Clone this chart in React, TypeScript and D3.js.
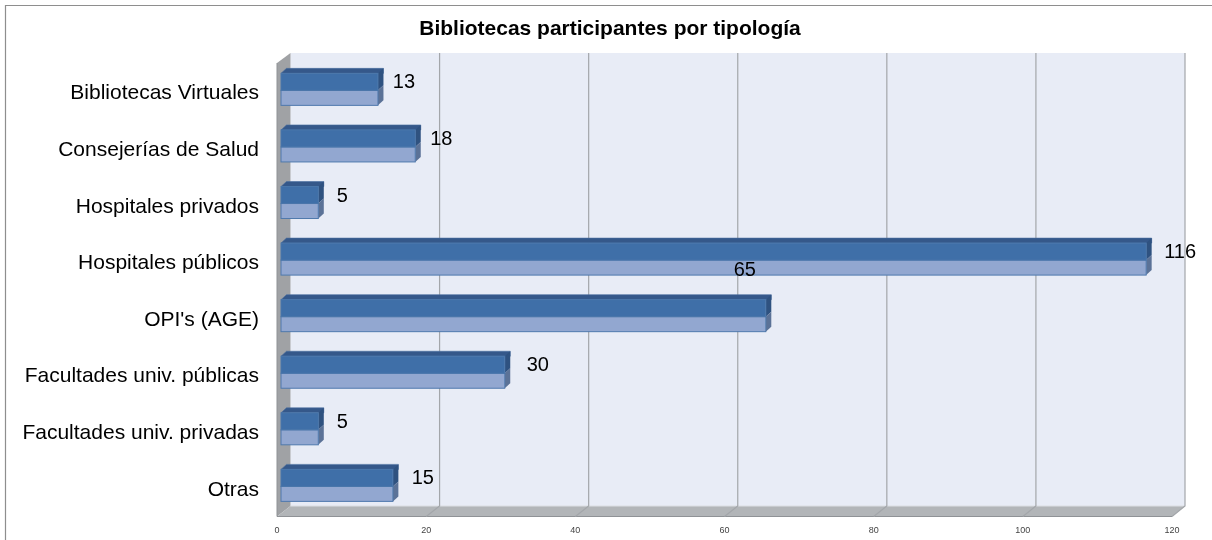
import React from "react";
import * as d3 from "d3";

const title = "Bibliotecas participantes por tipología";
const categories = [
  "Bibliotecas Virtuales",
  "Consejerías de Salud",
  "Hospitales privados",
  "Hospitales públicos",
  "OPI's (AGE)",
  "Facultades univ. públicas",
  "Facultades univ. privadas",
  "Otras",
];
const values = [13, 18, 5, 116, 65, 30, 5, 15];
const ticks = [0, 20, 40, 60, 80, 100, 120];

// hand-placed data label nudges, as in the reference (px from the bar's end / middle)
const labelDx = [26, 26, 24, 34, -21, 33, 24, 30];
const labelDy = [-8, -8, -8, -8, -47, -8, -8, -8];

const W = 1212;
const H = 540;
const DX = 5.5;
const DY = 5;
const FONT = "'Liberation Sans', Arial, sans-serif";

const xBack = d3.scaleLinear().domain([0, 120]).range([290.5, 1185]);
const xFront = d3.scaleLinear().domain([0, 120]).range([277, 1172]);
const xBar = d3.scaleLinear().domain([0, 120]).range([281, 1176]);
const yBand = d3
  .scaleBand<string>()
  .domain(categories)
  .range([44.7, 497.3])
  .paddingInner(0.43)
  .paddingOuter(0.215);

export default function App() {
  const top = 53;
  const floorBack = 506;
  const floorFront = 516.5;
  const bh = 32;
  return (
    <svg
      width={W}
      height={H}
      viewBox={`0 0 ${W} ${H}`}
      style={{ position: "absolute", left: 0, top: 0, filter: "blur(0.35px)" }}
      fontFamily={FONT}
    >
      <rect width={W} height={H} fill="#ffffff" />
      <path d={`M5.5 ${H} V5.5 H${W}`} fill="none" stroke="#8e8e8e" strokeWidth={1.2} />

      <text x={610} y={35} textAnchor="middle" fontSize={21} fontWeight={700} fill="#000">
        {title}
      </text>

      {/* walls */}
      <rect x={xBack(0)} y={top} width={xBack(120) - xBack(0)} height={floorBack - top} fill="#e8ecf6" />
      <path
        d={`M${xFront(0)} 63 L${xBack(0)} ${top} V${floorBack} L${xFront(0)} ${floorFront} Z`}
        fill="#a0a2a5"
      />
      <path
        d={`M${xFront(0)} ${floorFront} L${xBack(0)} ${floorBack} H${xBack(120)} L${xFront(120)} ${floorFront} Z`}
        fill="#b2b5b8"
      />
      <path d={`M${xBack(0)} ${floorBack} H${xBack(120)}`} stroke="#dcdfe3" strokeWidth={1} />
      <path d={`M${xFront(0)} ${floorFront} H${xFront(120)}`} stroke="#8f9296" strokeWidth={1.2} />
      <path d={`M${xFront(0)} 63 V${floorFront}`} stroke="#8f9296" strokeWidth={1} />

      {/* gridlines */}
      {ticks.slice(1).map((t) => (
        <path
          key={t}
          d={`M${xBack(t)} ${top} V${floorBack} L${xFront(t)} ${floorFront}`}
          fill="none"
          stroke="#a3a6aa"
          strokeWidth={1.2}
        />
      ))}

      {/* bars */}
      {categories.map((c, i) => {
        const x0 = xBar(0);
        const x1 = xBar(values[i]);
        const y0 = yBand(c)! + 16.5;
        const mid = y0 + 17;
        const y1 = y0 + bh;
        return (
          <g key={c}>
            <path
              d={`M${x0} ${y0} L${x0 + DX} ${y0 - DY} H${x1 + DX} V${y0} H${x1} Z`}
              fill="#35588a"
              stroke="#4a6f9f"
              strokeWidth={0.6}
            />
            <path
              d={`M${x1} ${y0} L${x1 + DX} ${y0 - DY} V${mid - DY} L${x1} ${mid} Z`}
              fill="#2f5280"
            />
            <path
              d={`M${x1} ${mid} L${x1 + DX} ${mid - DY} V${y1 - DY} L${x1} ${y1} Z`}
              fill="#5b7297"
            />
            <rect x={x0} y={mid} width={x1 - x0} height={y1 - mid} fill="#92a7d0" stroke="#4f79ad" strokeWidth={1} />
            <rect x={x0} y={y0} width={x1 - x0} height={mid - y0} fill="#3f6fa8" stroke="#4a76aa" strokeWidth={1} />
          </g>
        );
      })}

      {/* category labels */}
      {categories.map((c) => (
        <text
          key={c}
          x={259}
          y={yBand(c)! + yBand.bandwidth() / 2 + 26.5}
          textAnchor="end"
          fontSize={21}
          fill="#000"
        >
          {c}
        </text>
      ))}

      {/* data labels */}
      {categories.map((c, i) => (
        <text
          key={c}
          x={xBar(values[i]) + labelDx[i]}
          y={yBand(c)! + 16.5 + 16 + labelDy[i] + 7}
          textAnchor="middle"
          fontSize={20}
          fill="#000"
        >
          {values[i]}
        </text>
      ))}

      {/* tick labels */}
      {ticks.map((t) => (
        <text key={t} x={xFront(t)} y={533} textAnchor="middle" fontSize={9} fill="#444">
          {t}
        </text>
      ))}
    </svg>
  );
}
